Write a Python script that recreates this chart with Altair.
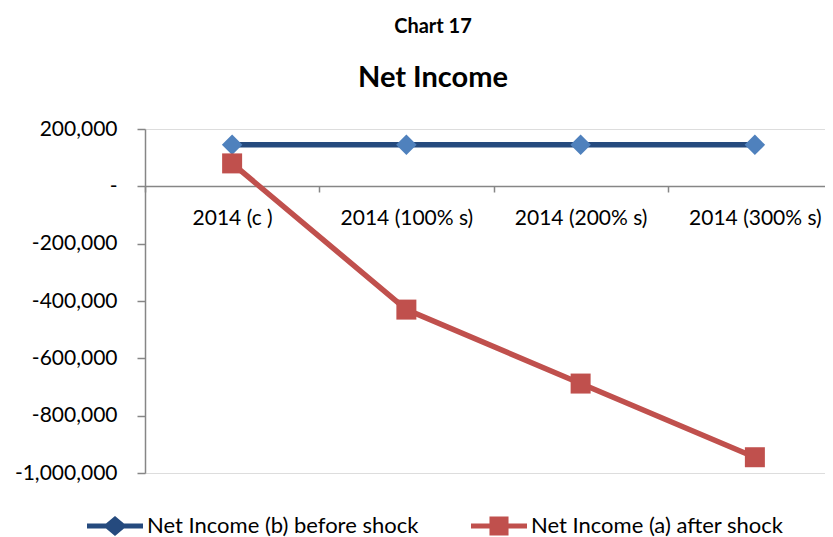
import altair as alt
import pandas as pd

categories = ["2014 (c )", "2014 (100% s)", "2014 (200% s)", "2014 (300% s)"]
series_names = ["Net Income (b) before shock", "Net Income (a) after shock"]
before_shock = [145000, 145000, 145000, 145000]
after_shock = [80000, -430000, -688000, -945000]
y_ticks = [-1000000, -800000, -600000, -400000, -200000, 0, 200000]

rows = []
for c, v in zip(categories, before_shock):
    rows.append({"category": c, "series": series_names[0], "value": v})
for c, v in zip(categories, after_shock):
    rows.append({"category": c, "series": series_names[1], "value": v})
df = pd.DataFrame(rows)

NAVY = "#254A7E"
BLUE = "#4F81BD"
RED = "#C0504D"
FONT = "Lato"

x_enc = alt.X(
    "category:N",
    sort=categories,
    scale=alt.Scale(domain=categories, range=[0, 697], paddingInner=0, paddingOuter=0),
    axis=alt.Axis(
        title=None,
        orient="bottom",
        offset=-287,
        tickBand="extent",
        tickSize=6,
        tickColor="#868686",
        domainColor="#868686",
        domainWidth=1.5,
        tickWidth=1.5,
        labelFont=FONT,
        labelFontSize=21,
        labelColor="black",
        labelPadding=15,
        labelAngle=0,
        labelOverlap=False,
    ),
)
y_enc = alt.Y(
    "value:Q",
    scale=alt.Scale(domain=[-1000000, 200000], nice=False, zero=False),
    axis=alt.Axis(
        title=None,
        values=y_ticks,
        grid=False,
        tickSize=8,
        tickColor="#868686",
        domainColor="#868686",
        domainWidth=1.5,
        tickWidth=1.5,
        labelFont=FONT,
        labelFontSize=21,
        labelColor="black",
        labelPadding=20,
        labelExpr="datum.value == 0 ? '-\u00a0\u00a0\u00a0' : replace(format(datum.value, ','), '\u2212', '-')",
    ),
)

legend_spec = alt.Legend(
    title=None,
    orient="none",
    legendX=-58,
    legendY=369,
    direction="horizontal",
    symbolSize=3136,
    symbolStrokeWidth=0,
    labelFont=FONT,
    labelFontSize=22,
    labelColor="black",
    labelOffset=4,
    columnPadding=52,
    labelLimit=400,
)

color_scale = alt.Scale(domain=series_names, range=[NAVY, RED])

lines = alt.Chart(df).mark_line(strokeWidth=5.5).encode(
    x=x_enc,
    y=y_enc,
    color=alt.Color("series:N", scale=color_scale, legend=legend_spec),
)

diamonds = alt.Chart(df).transform_filter(
    alt.datum.series == series_names[0]
).mark_point(shape="diamond", size=420, filled=True, opacity=1, color=BLUE).encode(
    x=x_enc, y=y_enc
)

squares = alt.Chart(df).transform_filter(
    alt.datum.series == series_names[1]
).mark_point(shape="square", size=400, filled=True, opacity=1, color=RED).encode(
    x=x_enc, y=y_enc
)

diamond_path = "M-1,-0.09 L-0.32,-0.09 L0,-0.36 L0.32,-0.09 L1,-0.09 L1,0.09 L0.32,0.09 L0,0.36 L-0.32,0.09 L-1,0.09 Z"
square_path = "M-1,-0.09 L-0.34,-0.09 L-0.34,-0.34 L0.34,-0.34 L0.34,-0.09 L1,-0.09 L1,0.09 L0.34,0.09 L0.34,0.34 L-0.34,0.34 L-0.34,0.09 L-1,0.09 Z"

legend_layer = alt.Chart(df).transform_filter(
    alt.datum.value > 1e12
).mark_point(filled=True, opacity=1, strokeWidth=0).encode(
    x=x_enc,
    y=y_enc,
    color=alt.Color("series:N", scale=color_scale, legend=legend_spec),
    shape=alt.Shape("series:N", scale=alt.Scale(domain=series_names, range=[diamond_path, square_path]), legend=legend_spec),
)

chart = alt.layer(lines, diamonds, squares, legend_layer).properties(
    width=680,
    height=344,
    autosize=alt.AutoSizeParams(type="none"),
    padding={"left": 137, "top": 121, "right": 0, "bottom": 80},
    title=alt.Title(
        text="Chart 17",
        subtitle="Net Income",
        anchor="middle",
        frame="group",
        dx=-52,
        offset=25,
        font=FONT,
        fontSize=20,
        fontWeight="bold",
        color="black",
        subtitleFont=FONT,
        subtitleFontSize=29,
        subtitleFontWeight="bold",
        subtitleColor="black",
        subtitlePadding=27,
    ),
).configure_view(stroke=None).configure(background="white")

chart.save("out.html", embed_options={"renderer": "svg", "actions": False})
